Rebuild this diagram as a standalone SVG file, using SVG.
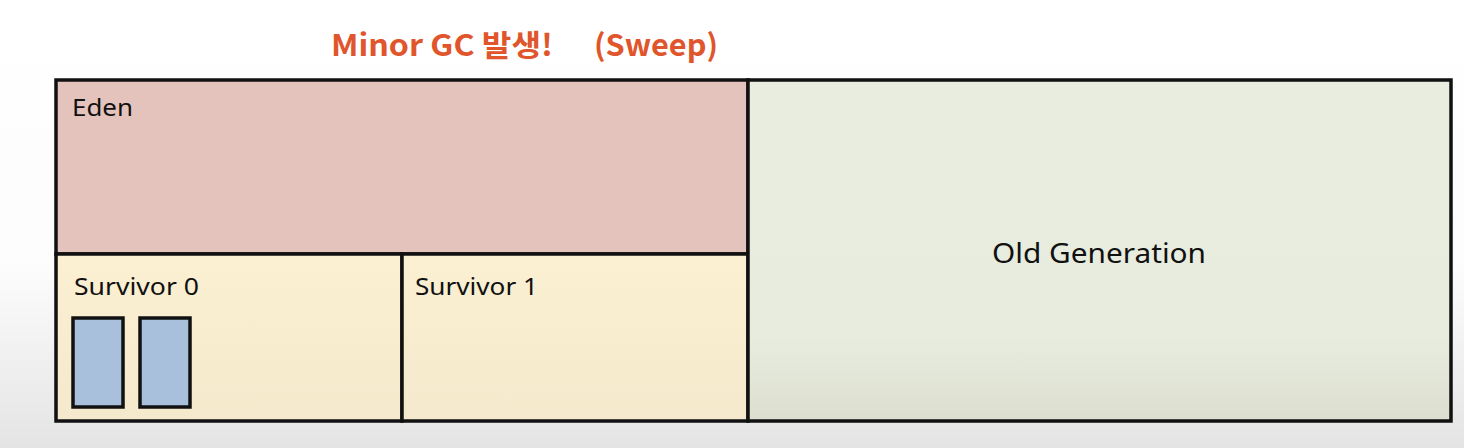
<svg xmlns="http://www.w3.org/2000/svg" width="1464" height="448" viewBox="0 0 1464 448">
<defs>
<linearGradient id="bg" x1="0" y1="0" x2="0" y2="1">
<stop offset="0" stop-color="#ffffff"/>
<stop offset="0.6" stop-color="#fcfcfc"/>
<stop offset="1" stop-color="#e4e4e4"/>
</linearGradient>
<linearGradient id="old" x1="0" y1="0" x2="0" y2="1">
<stop offset="0" stop-color="#e9eddf"/>
<stop offset="0.75" stop-color="#e8ecde"/>
<stop offset="1" stop-color="#dcdfd0"/>
</linearGradient>
<linearGradient id="surv" x1="0" y1="0" x2="0" y2="1">
<stop offset="0" stop-color="#fbf0d2"/>
<stop offset="1" stop-color="#f4e9cc"/>
</linearGradient>
<style>
.box{stroke:#111;stroke-width:3.5}
.lbl{font-family:"Noto Sans","Open Sans","Liberation Sans",sans-serif;fill:#111}
.obj{fill:#a9c0dc;stroke:#111;stroke-width:3.5}
.ttl{font-family:"Noto Sans CJK KR","Noto Sans",sans-serif;font-weight:bold;font-size:30px;fill:#e0552b}
</style>
</defs>
<rect x="0" y="0" width="1464" height="448" fill="url(#bg)"/>
<text class="ttl" x="331" y="56" textLength="222" lengthAdjust="spacingAndGlyphs">Minor GC 발생!</text>
<text class="ttl" x="594" y="56" textLength="124" lengthAdjust="spacingAndGlyphs">(Sweep)</text>
<g id="eden">
<rect class="box" x="56" y="80" width="692" height="174" fill="#e5c3bd"/>
<text class="lbl" x="72" y="116" font-size="24" textLength="61" lengthAdjust="spacingAndGlyphs">Eden</text>
</g>
<g id="survivor0">
<rect class="box" x="56" y="254" width="346" height="167" fill="url(#surv)"/>
<text class="lbl" x="74" y="295" font-size="24" textLength="125" lengthAdjust="spacingAndGlyphs">Survivor 0</text>
<rect class="obj" x="73" y="318" width="50" height="89"/>
<rect class="obj" x="140" y="318" width="50" height="89"/>
</g>
<g id="survivor1">
<rect class="box" x="402" y="254" width="346" height="167" fill="url(#surv)"/>
<text class="lbl" x="415" y="295" font-size="24" textLength="123" lengthAdjust="spacingAndGlyphs">Survivor 1</text>
</g>
<g id="old">
<rect class="box" x="748" y="80" width="703" height="341" fill="url(#old)"/>
<text class="lbl" x="992" y="263" font-size="28" textLength="214" lengthAdjust="spacingAndGlyphs">Old Generation</text>
</g>
<g id="connectors"/>
</svg>
